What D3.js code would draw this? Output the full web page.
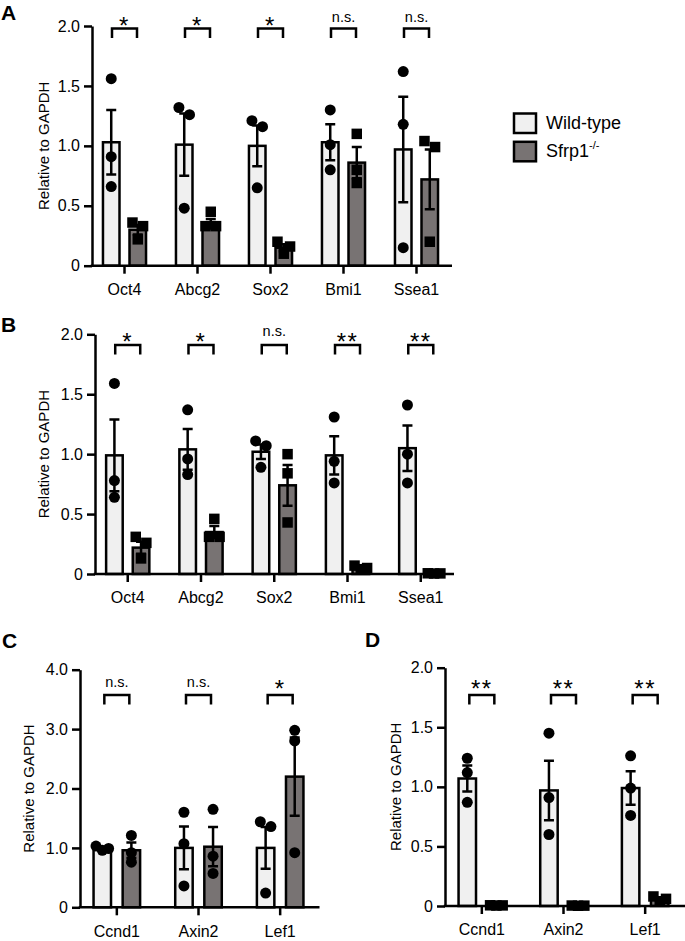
<!DOCTYPE html>
<html>
<head>
<meta charset="utf-8">
<script src="https://cdn.jsdelivr.net/npm/d3@7"></script>
<style>
  html, body { margin: 0; padding: 0; background: #ffffff; }
  svg { display: block; }
  text { font-family: Arial, "Liberation Sans", sans-serif; fill: #000; }
</style>
</head>
<body>
<svg id="chart" width="685" height="941"></svg>
<script>
// ---------------- DATA ----------------
const groups = ["Wild-type", "Sfrp1-/-"];

// Panel A
const catsA = ["Oct4", "Abcg2", "Sox2", "Bmi1", "Ssea1"];
const wtMeanA = [1.03, 1.01, 1.00, 1.03, 0.97];
const wtSemA  = [0.27, 0.26, 0.17, 0.15, 0.44];
const koMeanA = [0.30, 0.35, 0.15, 0.86, 0.72];
const koSemA  = [0.04, 0.04, 0.03, 0.13, 0.25];
const wtPtsA = [[1.56, 0.91, 0.66], [1.32, 1.26, 0.48], [1.21, 1.16, 0.65], [1.30, 1.01, 0.80], [1.62, 1.18, 0.15]];
const koPtsA = [[0.36, 0.33, 0.22], [0.45, 0.33, 0.33], [0.20, 0.16, 0.10], [1.10, 0.80, 0.69], [1.04, 0.99, 0.20]];
const sigA = ["*", "*", "*", "n.s.", "n.s."];
const ticksA = [0, 0.5, 1.0, 1.5, 2.0];
const tickLabelsA = ["0", "0.5", "1.0", "1.5", "2.0"];

// Panel B
const catsB = ["Oct4", "Abcg2", "Sox2", "Bmi1", "Ssea1"];
const wtMeanB = [0.99, 1.04, 1.02, 0.99, 1.05];
const wtSemB  = [0.30, 0.17, 0.06, 0.16, 0.19];
const koMeanB = [0.22, 0.35, 0.74, 0.05, 0.005];
const koSemB  = [0.05, 0.05, 0.17, 0.01, 0.001];
const wtPtsB = [[1.59, 0.78, 0.64], [1.37, 0.96, 0.83], [1.11, 1.07, 0.89], [1.31, 0.94, 0.76], [1.41, 1.00, 0.76]];
const koPtsB = [[0.31, 0.26, 0.13], [0.46, 0.31, 0.31], [1.00, 0.84, 0.43], [0.07, 0.05, 0.04], [0.006, 0.005, 0.004]];
const sigB = ["*", "*", "n.s.", "**", "**"];
const ticksB = [0, 0.5, 1.0, 1.5, 2.0];
const tickLabelsB = ["0", "0.5", "1.0", "1.5", "2.0"];

// Panel C
const catsC = ["Ccnd1", "Axin2", "Lef1"];
const wtMeanC = [0.99, 1.00, 1.00];
const wtSemC  = [0.02, 0.36, 0.35];
const koMeanC = [0.96, 1.02, 2.20];
const koSemC  = [0.13, 0.33, 0.66];
const wtPtsC = [[1.03, 0.99, 0.96], [1.60, 1.07, 0.36], [1.44, 1.36, 0.24]];
const koPtsC = [[1.21, 0.92, 0.76], [1.65, 0.86, 0.57], [2.98, 2.80, 0.92]];
const sigC = ["n.s.", "n.s.", "*"];
const ticksC = [0, 1, 2, 3, 4];
const tickLabelsC = ["0", "1.0", "2.0", "3.0", "4.0"];

// Panel D
const catsD = ["Ccnd1", "Axin2", "Lef1"];
const wtMeanD = [1.07, 0.97, 0.99];
const wtSemD  = [0.11, 0.25, 0.14];
const koMeanD = [0.005, 0.003, 0.06];
const koSemD  = [0.001, 0.001, 0.01];
const wtPtsD = [[1.24, 1.12, 0.87], [1.45, 0.91, 0.60], [1.26, 0.99, 0.76]];
const koPtsD = [[0.006, 0.005, 0.004], [0.004, 0.003, 0.002], [0.08, 0.06, 0.04]];
const sigD = ["**", "**", "**"];
const ticksD = [0, 0.5, 1.0, 1.5, 2.0];
const tickLabelsD = ["0", "0.5", "1.0", "1.5", "2.0"];

const yLabel = "Relative to GAPDH";

// ---------------- STYLE ----------------
const WT_FILL = "#f0f0f0";
const KO_FILL = "#787373";
const SW = 2.5;

const svg = d3.select("#chart");

function spreadOffsets(vals, y, thresh) {
  // cluster nearby points (descending order) and spread them horizontally
  const idx = vals.map((v, i) => i).sort((a, b) => vals[b] - vals[a]);
  const offs = new Array(vals.length).fill(0);
  let clusters = [];
  let cur = [idx[0]];
  for (let k = 1; k < idx.length; k++) {
    const prev = cur[cur.length - 1];
    if (Math.abs(y(vals[idx[k]]) - y(vals[prev])) < thresh) cur.push(idx[k]);
    else { clusters.push(cur); cur = [idx[k]]; }
  }
  clusters.push(cur);
  clusters.forEach(c => {
    if (c.length === 2) { offs[c[0]] = -5.3; offs[c[1]] = 5.3; }
    else if (c.length === 3) { offs[c[0]] = -6.3; offs[c[1]] = 6.3; offs[c[2]] = 0; }
  });
  return offs;
}

function drawPanel(cfg, d) {
  const g = svg.append("g");
  const y = d3.scaleLinear().domain([0, cfg.yMax]).range([cfg.y0, cfg.yTop]);
  const x0 = d3.scaleBand().domain(d.cats).range(cfg.band)
    .paddingInner(cfg.pad).paddingOuter(cfg.pad / 2);
  const x1 = d3.scaleBand().domain(groups).range([0, x0.bandwidth()]).paddingInner(cfg.subPad);
  const bw = x1.bandwidth();

  const circ = { shape: d3.symbolCircle, size: Math.PI * 5.5 * 5.5 };
  const sq = { shape: d3.symbolSquare, size: 10.5 * 10.5 };
  const series = [
    Object.assign({ key: groups[0], mean: d.wtMean, sem: d.wtSem, pts: d.wtPts, fill: WT_FILL }, circ),
    Object.assign({ key: groups[1], mean: d.koMean, sem: d.koSem, pts: d.koPts, fill: KO_FILL }, cfg.koCircle ? circ : sq)
  ];

  // bars
  series.forEach(s => {
    g.selectAll(null).data(d.cats).enter().append("rect")
      .attr("x", c => x0(c) + x1(s.key))
      .attr("y", (c, i) => y(s.mean[i]))
      .attr("width", bw)
      .attr("height", (c, i) => y(0) - y(s.mean[i]))
      .attr("fill", s.fill)
      .attr("stroke", "#000")
      .attr("stroke-width", SW);
  });

  // error bars
  series.forEach(s => {
    d.cats.forEach((c, i) => {
      const cx = x0(c) + x1(s.key) + bw / 2;
      const hi = y(s.mean[i] + s.sem[i]);
      const lo = y(Math.max(0, s.mean[i] - s.sem[i]));
      const path = `M${cx},${lo}V${hi}M${cx - 5},${hi}H${cx + 5}M${cx - 5},${lo}H${cx + 5}`;
      g.append("path").attr("d", path).attr("stroke", "#000").attr("stroke-width", SW).attr("fill", "none");
    });
  });

  // points
  series.forEach(s => {
    d.cats.forEach((c, i) => {
      const cx = x0(c) + x1(s.key) + bw / 2;
      const offs = spreadOffsets(s.pts[i], y, 8);
      s.pts[i].forEach((v, k) => {
        g.append("path")
          .attr("d", d3.symbol().type(s.shape).size(s.size)())
          .attr("transform", `translate(${cx + offs[k]},${y(v)})`)
          .attr("fill", "#000");
      });
    });
  });

  // y axis
  const yAxis = d3.axisLeft(y).tickValues(d.ticks)
    .tickFormat((v, i) => d.tickLabels[i]).tickSize(8).tickSizeOuter(0).tickPadding(4);
  const ya = g.append("g").attr("transform", `translate(${cfg.axisX},0)`).call(yAxis);
  ya.select(".domain").attr("stroke-width", SW).attr("stroke", "#000");
  ya.selectAll(".tick line").attr("stroke-width", SW).attr("stroke", "#000");
  ya.selectAll(".tick text").attr("font-size", 16).attr("font-family", "Arial, 'Liberation Sans', sans-serif").attr("fill", "#000");

  // x axis
  const xAxis = d3.axisBottom(x0).tickSize(8).tickSizeOuter(0).tickPadding(10);
  const xa = g.append("g").attr("transform", `translate(0,${cfg.y0})`).call(xAxis);
  xa.select(".domain").remove();
  xa.selectAll(".tick line").attr("stroke-width", SW).attr("stroke", "#000");
  xa.selectAll(".tick text").attr("font-size", 16).attr("font-family", "Arial, 'Liberation Sans', sans-serif").attr("fill", "#000");
  g.append("line").attr("x1", cfg.axisX - SW / 2).attr("x2", cfg.axisEnd)
    .attr("y1", cfg.y0).attr("y2", cfg.y0).attr("stroke", "#000").attr("stroke-width", SW);

  // y label
  g.append("text")
    .attr("transform", `translate(${cfg.labelX},${(cfg.y0 + cfg.yTop) / 2}) rotate(-90)`)
    .attr("text-anchor", "middle").attr("font-size", 15).text(yLabel);

  // significance brackets
  d.cats.forEach((c, i) => {
    const cx = x0(c) + x0.bandwidth() / 2;
    const xl = cx - 12.5, xr = cx + 12.5;
    const t = cfg.bracketTop;
    g.append("path").attr("d", `M${xl},${t + 9.5}V${t}H${xr}V${t + 9.5}`)
      .attr("stroke", "#000").attr("stroke-width", SW).attr("fill", "none");
    const isStar = d.sig[i].indexOf("*") === 0;
    g.append("text").attr("x", cx).attr("y", isStar ? t - cfg.starGap + 9.1 : t - cfg.nsGap)
      .attr("text-anchor", "middle")
      .attr("font-size", isStar ? 24 : 14.5)
      .attr("letter-spacing", isStar ? 1.5 : 0)
      .text(d.sig[i]);
  });

  // panel letter
  g.append("text").attr("x", cfg.letterX).attr("y", cfg.letterY)
    .attr("font-size", 21).attr("font-weight", "bold").text(cfg.letter);
}

drawPanel(
  { letter: "A", letterX: 1, letterY: 20, yMax: 2, y0: 265.7, yTop: 26, axisX: 92, axisEnd: 452,
    band: [88, 453], pad: 0.41, subPad: 0.377, bracketTop: 28.5, starGap: 3.5, nsGap: 6.5, labelX: 49 },
  { cats: catsA, wtMean: wtMeanA, wtSem: wtSemA, koMean: koMeanA, koSem: koSemA,
    wtPts: wtPtsA, koPts: koPtsA, sig: sigA, ticks: ticksA, tickLabels: tickLabelsA });

drawPanel(
  { letter: "B", letterX: 1, letterY: 332, yMax: 2, y0: 574, yTop: 334.3, axisX: 95, axisEnd: 454,
    band: [91.1, 457.4], pad: 0.41, subPad: 0.377, bracketTop: 345, starGap: 4, nsGap: 9, labelX: 49 },
  { cats: catsB, wtMean: wtMeanB, wtSem: wtSemB, koMean: koMeanB, koSem: koSemB,
    wtPts: wtPtsB, koPts: koPtsB, sig: sigB, ticks: ticksB, tickLabels: tickLabelsB });

drawPanel(
  { letter: "C", letterX: 2, letterY: 648, yMax: 4, y0: 907.3, yTop: 669.7, axisX: 80, axisEnd: 319.5,
    band: [76, 321], pad: 0.43, subPad: 0.4, bracketTop: 695, starGap: 7.5, nsGap: 7.7, labelX: 33.5, koCircle: true },
  { cats: catsC, wtMean: wtMeanC, wtSem: wtSemC, koMean: koMeanC, koSem: koSemC,
    wtPts: wtPtsC, koPts: koPtsC, sig: sigC, ticks: ticksC, tickLabels: tickLabelsC });

drawPanel(
  { letter: "D", letterX: 365, letterY: 647, yMax: 2, y0: 906, yTop: 667.7, axisX: 445, axisEnd: 685,
    band: [441, 686], pad: 0.43, subPad: 0.4, bracketTop: 695, starGap: 7, nsGap: 7.7, labelX: 401 },
  { cats: catsD, wtMean: wtMeanD, wtSem: wtSemD, koMean: koMeanD, koSem: koSemD,
    wtPts: wtPtsD, koPts: koPtsD, sig: sigD, ticks: ticksD, tickLabels: tickLabelsD });

// legend
const legend = svg.append("g");
const legendFills = [WT_FILL, KO_FILL];
groups.forEach((name, i) => {
  const yy = 113.5 + i * 28.3;
  legend.append("rect").attr("x", 514).attr("y", yy).attr("width", 22).attr("height", 19.5)
    .attr("fill", legendFills[i]).attr("stroke", "#000").attr("stroke-width", SW);
  const t = legend.append("text").attr("x", 546).attr("y", yy + 15.2).attr("font-size", 18);
  if (name.indexOf("-/-") > 0) {
    t.append("tspan").text(name.replace("-/-", ""));
    t.append("tspan").attr("font-size", 11).attr("dy", -8).text("-/-");
  } else {
    t.text(name);
  }
});
</script>
</body>
</html>
